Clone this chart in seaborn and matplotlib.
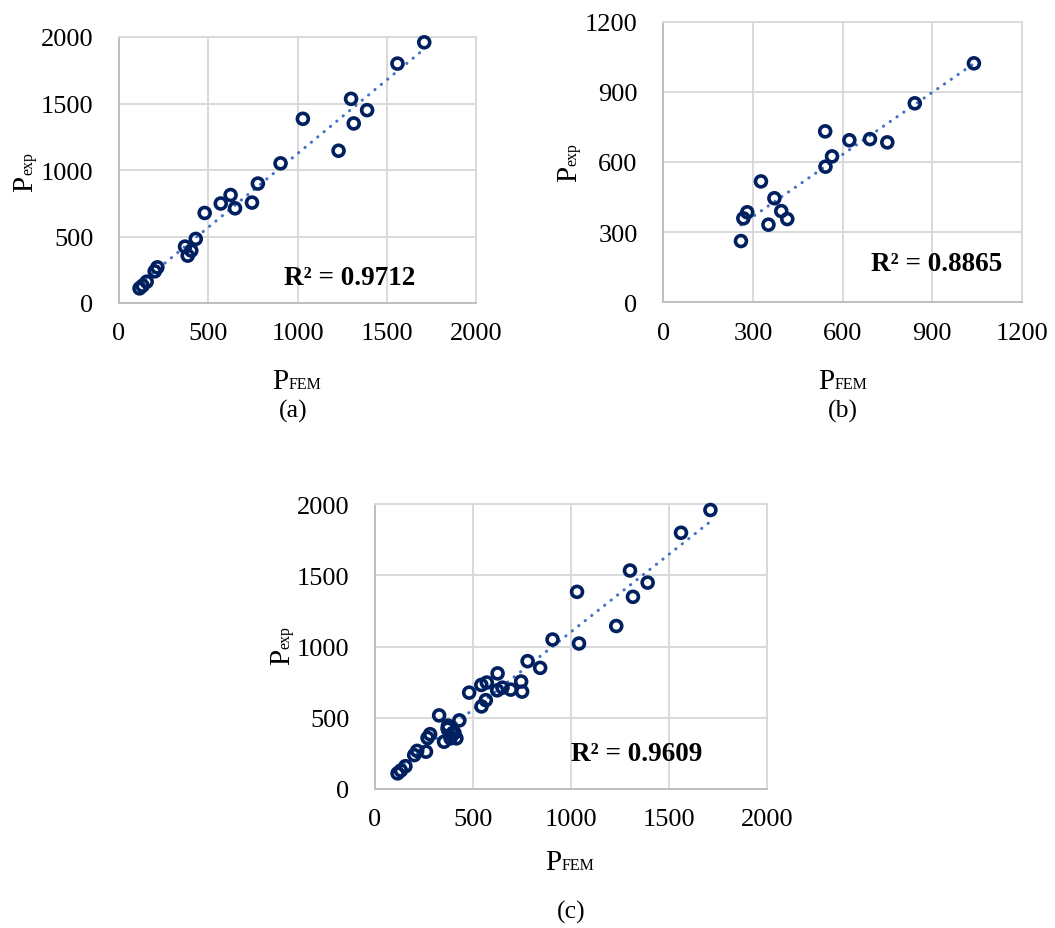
import numpy as np
import pandas as pd
import seaborn as sns
import matplotlib
matplotlib.use("Agg")
import matplotlib.pyplot as plt

# ---- data: FEM-predicted vs experimental capacities ----
set_a_fem = [1710, 1560, 1300, 1390, 1030, 1315, 1230, 905, 778, 625, 570, 650,
             745, 480, 430, 370, 405, 385, 215, 200, 155, 132, 115]
set_a_exp = [1960, 1800, 1535, 1450, 1385, 1350, 1145, 1050, 898, 812, 748, 712,
             755, 677, 482, 424, 394, 356, 268, 238, 160, 130, 110]

set_b_fem = [1040, 842, 542, 623, 692, 750, 565, 543, 327, 372, 395, 415, 352,
             281, 268, 260]
set_b_exp = [1022, 851, 731, 693, 698, 684, 624, 580, 517, 445, 390, 356, 332,
             385, 359, 262]

r2_labels = ["R² = 0.9712", "R² = 0.8865", "R² = 0.9609"]
captions = ["(a)", "(b)", "(c)"]
ticks_ab = [0, 500, 1000, 1500, 2000]
ticks_b = [0, 300, 600, 900, 1200]

df_a = pd.DataFrame({"fem": set_a_fem, "exp": set_a_exp})
df_b = pd.DataFrame({"fem": set_b_fem, "exp": set_b_exp})
df_c = pd.concat([df_a, df_b], ignore_index=True)

# ---- styling ----
sns.set_theme(style="white")
SERIF = ["Liberation Serif", "DejaVu Serif"]
plt.rcParams["font.family"] = SERIF
plt.rcParams["text.color"] = "black"

W, H = 1055, 929
fig = plt.figure(figsize=(W / 100, H / 100), dpi=100)


def rect(l, t, r, b):
    return [l / W, 1 - b / H, (r - l) / W, (b - t) / H]


MARK = "#002060"
TREND = "#4472C4"
GRID = "#D9D9D9"
AXIS = "#BFBFBF"


def panel(box, df, ticks, r2, r2_xy):
    ax = fig.add_axes(rect(*box))
    sns.regplot(data=df, x="fem", y="exp", ax=ax, scatter=False, ci=None,
                truncate=True,
                line_kws=dict(color=TREND, lw=2.2, ls=(0, (0.1, 2.6)),
                              dash_capstyle="round", zorder=3))
    sns.scatterplot(data=df, x="fem", y="exp", ax=ax, marker="o", s=62,
                    facecolors="none", edgecolor=MARK, linewidth=2.6,
                    zorder=4, clip_on=False)
    ax.set_xlim(ticks[0], ticks[-1])
    ax.set_ylim(ticks[0], ticks[-1])
    ax.set_xticks(ticks)
    ax.set_yticks(ticks)
    ax.set_xlabel("")
    ax.set_ylabel("")
    ax.grid(True, color=GRID, lw=1.4)
    ax.set_axisbelow(True)
    for side in ("top", "right"):
        ax.spines[side].set_visible(True)
        ax.spines[side].set_color(GRID)
        ax.spines[side].set_linewidth(1.4)
    for side in ("left", "bottom"):
        ax.spines[side].set_color(AXIS)
        ax.spines[side].set_linewidth(1.4)
    ax.tick_params(axis="both", length=0, labelsize=19, colors="black")
    ax.tick_params(axis="x", pad=14)
    ax.tick_params(axis="y", pad=18.5)
    for lab in ax.get_xticklabels() + ax.get_yticklabels():
        lab.set_family(SERIF)
    ax.text(r2_xy[0], r2_xy[1], r2, ha="center", va="center", color="black",
            fontsize=19.5, fontweight="bold", family=SERIF, zorder=5)
    return ax


def _widths(sub):
    renderer = fig.canvas.get_renderer()
    tmp_p = fig.text(0, 0, "P", fontsize=21, family=SERIF)
    tmp_s = fig.text(0, 0, sub, fontsize=11.5, family=SERIF)
    wp = tmp_p.get_window_extent(renderer).width
    ws = tmp_s.get_window_extent(renderer).width
    tmp_p.remove()
    tmp_s.remove()
    return wp, ws


def centered_xlabel(xc, y_base, sub="FEM"):
    # "P" followed by a small subscript, centred as a group
    wp, ws = _widths(sub)
    left = xc - (wp + ws) / 2
    fig.text(left / W, 1 - y_base / H, "P", fontsize=21, family=SERIF,
             ha="left", va="baseline")
    fig.text((left + wp) / W, 1 - y_base / H, sub, fontsize=11.5,
             family=SERIF, ha="left", va="baseline")


def centered_ylabel(x_base, yc, sub="exp"):
    wp, ws = _widths(sub)
    bottom = yc + (wp + ws) / 2  # pixel y from top
    fig.text(x_base / W, 1 - bottom / H, "P", fontsize=21, family=SERIF,
             rotation=90, rotation_mode="anchor", ha="left", va="baseline")
    fig.text(x_base / W, 1 - (bottom - wp) / H, sub, fontsize=11.5,
             family=SERIF, rotation=90, rotation_mode="anchor",
             ha="left", va="baseline")


panel((119, 38, 476, 304), df_a, ticks_ab, r2_labels[0], (1293, 193))
panel((663.3, 22.7, 1021.7, 303.3), df_b, ticks_b, r2_labels[1], (915, 164))
panel((375, 505.3, 767.3, 790), df_c, ticks_ab, r2_labels[2], (1334, 246))

centered_xlabel(297, 389)
centered_xlabel(843, 389)
centered_xlabel(570, 870)

centered_ylabel(32, 172)
centered_ylabel(576, 163)
centered_ylabel(289, 646)

for txt, (cx, cy) in zip(captions, [(293, 411), (843, 411), (571, 912)]):
    fig.text(cx / W, 1 - cy / H, txt, fontsize=18.5, family=SERIF,
             ha="center", va="center")

fig.savefig("out.png", dpi=100)
